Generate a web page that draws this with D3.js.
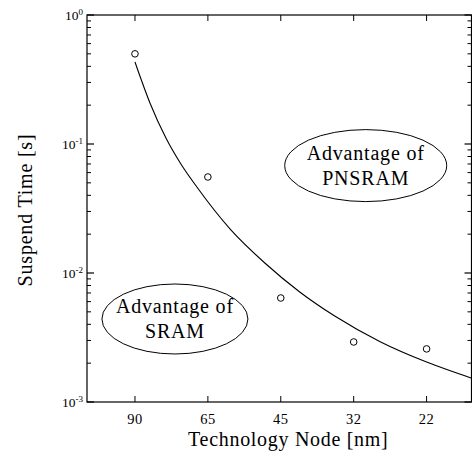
<!DOCTYPE html>
<html><head><meta charset="utf-8">
<script src="https://cdn.jsdelivr.net/npm/d3@7/dist/d3.min.js"></script>
<style>body{margin:0;background:#fff}svg{display:block}</style>
</head><body>
<svg id="c" width="472" height="460"></svg>
<script>
// Data
const categories = ["90", "65", "45", "32", "22"];
const suspendTime = [0.50, 0.0555, 0.0064, 0.00292, 0.00258];
const fitPos = [0, 0.2055, 0.4247, 0.630, 0.849, 1.315, 1.781, 2.26, 2.74, 3.37, 4.0, 4.62];
const fitTime = [0.432, 0.208, 0.1113, 0.070, 0.0464, 0.0216, 0.01196, 0.00713, 0.00464, 0.00292, 0.00204, 0.00153];
const yExponents = [0, -1, -2, -3];
const notes = [
  {lines: ["Advantage of", "PNSRAM"], pos: 3.165, val: 0.068},
  {lines: ["Advantage of", "SRAM"], pos: 0.548, val: 0.0044}
];

const svg = d3.select("#c");
const font = "'Liberation Serif', 'DejaVu Serif', serif";
const L = 87, R = 471.5, T = 15, B = 402;

const x = d3.scaleLinear().domain([-0.658, 4.616]).range([L, R]);
const y = d3.scaleLog().domain([1e-3, 1]).range([B, T]);

// frame
svg.append("rect").attr("x", L).attr("y", T).attr("width", R - L).attr("height", B - T)
  .attr("fill", "none").attr("stroke", "#000").attr("stroke-width", 1.2);

// minor y ticks
const minor = y.ticks().filter(v => Math.abs(Math.log10(v) - Math.round(Math.log10(v))) > 1e-6);
const majors = yExponents.map(e => Math.pow(10, e));
const gy = svg.append("g");
gy.selectAll("line.ml").data(minor).join("line")
  .attr("x1", L).attr("x2", L + 4).attr("y1", d => y(d)).attr("y2", d => y(d))
  .attr("stroke", "#000").attr("stroke-width", 1);
gy.selectAll("line.mr").data(minor).join("line")
  .attr("x1", R).attr("x2", R - 4).attr("y1", d => y(d)).attr("y2", d => y(d))
  .attr("stroke", "#000").attr("stroke-width", 1);
gy.selectAll("line.Ml").data(majors).join("line")
  .attr("x1", L).attr("x2", L + 7).attr("y1", d => y(d)).attr("y2", d => y(d))
  .attr("stroke", "#000").attr("stroke-width", 1.2);
gy.selectAll("line.Mr").data(majors).join("line")
  .attr("x1", R).attr("x2", R - 7).attr("y1", d => y(d)).attr("y2", d => y(d))
  .attr("stroke", "#000").attr("stroke-width", 1.2);

// y tick labels
const yl = gy.selectAll("text.yl").data(yExponents).join("text")
  .attr("x", L - 4).attr("y", d => y(Math.pow(10, d)) + 4.5)
  .attr("text-anchor", "end").attr("font-family", font).attr("font-size", 13.5);
yl.append("tspan").text("10");
yl.append("tspan").attr("dy", -5).attr("font-size", 9).text(d => d === 0 ? "0" : "-" + Math.abs(d));

// x ticks
const idx = categories.map((c, i) => i);
const gx = svg.append("g");
gx.selectAll("line.b").data(idx).join("line")
  .attr("x1", d => x(d)).attr("x2", d => x(d)).attr("y1", B).attr("y2", B - 6)
  .attr("stroke", "#000").attr("stroke-width", 1);
gx.selectAll("line.t").data(idx).join("line")
  .attr("x1", d => x(d)).attr("x2", d => x(d)).attr("y1", T).attr("y2", T + 6)
  .attr("stroke", "#000").attr("stroke-width", 1);
gx.selectAll("text").data(idx).join("text")
  .attr("x", d => x(d)).attr("y", 424).attr("text-anchor", "middle")
  .attr("font-family", font).attr("font-size", 14.5).attr("letter-spacing", 0.5).text(d => categories[d]);

// axis titles
svg.append("text").attr("x", (L + R) / 2 + 9).attr("y", 446).attr("text-anchor", "middle")
  .attr("font-family", font).attr("font-size", 20).attr("letter-spacing", 0.7).text("Technology Node [nm]");
svg.append("text").attr("transform", "translate(32,210) rotate(-90)").attr("text-anchor", "middle")
  .attr("font-family", font).attr("font-size", 20).attr("letter-spacing", 0.8).text("Suspend Time [s]");

// clip
svg.append("clipPath").attr("id", "clip").append("rect")
  .attr("x", L).attr("y", T).attr("width", R - L).attr("height", B - T);

// fit curve
const line = d3.line().x(d => x(d[0])).y(d => y(d[1])).curve(d3.curveMonotoneX);
svg.append("path").datum(fitPos.map((p, i) => [p, fitTime[i]]))
  .attr("clip-path", "url(#clip)")
  .attr("d", line).attr("fill", "none").attr("stroke", "#000").attr("stroke-width", 1.1);

// points
svg.selectAll("circle.pt").data(suspendTime).join("circle")
  .attr("cx", (d, i) => x(i)).attr("cy", d => y(d)).attr("r", 3.3)
  .attr("fill", "none").attr("stroke", "#000").attr("stroke-width", 1);

// annotations
const ng = svg.selectAll("g.note").data(notes).join("g")
  .attr("transform", d => `translate(${x(d.pos)},${y(d.val)})`);
ng.append("ellipse").attr("rx", (d, i) => i === 0 ? 81 : 73).attr("ry", (d, i) => i === 0 ? 36 : 35)
  .attr("fill", "none").attr("stroke", "#000").attr("stroke-width", 1);
ng.each(function(d) {
  const g = d3.select(this);
  d.lines.forEach((t, k) => {
    g.append("text").attr("x", 0).attr("y", -6 + k * 25).attr("text-anchor", "middle")
      .attr("font-family", font).attr("font-size", 20).attr("letter-spacing", 0.8).text(t);
  });
});
</script>
</body></html>
